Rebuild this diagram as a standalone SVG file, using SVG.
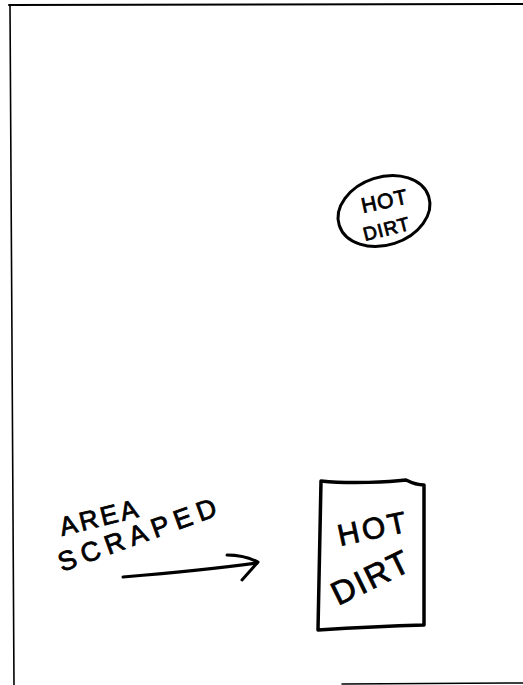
<svg xmlns="http://www.w3.org/2000/svg" width="523" height="685" viewBox="0 0 523 685">
<style>
.ink{fill:none;stroke:#000;stroke-linecap:round;stroke-linejoin:round}
.hand{font-family:"Liberation Sans","DejaVu Sans",sans-serif;fill:#000;stroke:#000;stroke-width:0.8;font-weight:normal}
</style>
<rect width="523" height="685" fill="#fff"/>
<g id="page-border">
<path class="ink" d="M9,5 L523,4" stroke-width="2"/>
<path class="ink" d="M10,5 L14,685" stroke-width="1.6"/>
<path class="ink" d="M342,684 L523,683" stroke-width="1.5"/>
</g>
<g id="hot-dirt-oval">
<ellipse class="ink" stroke-width="3" cx="384" cy="211" rx="47" ry="34" transform="rotate(-18 384 211)"/>
<text class="hand" font-size="21" transform="translate(363,213) rotate(-12)" letter-spacing="1">HOT</text>
<text class="hand" font-size="19" transform="translate(365,241) rotate(-14)" letter-spacing="1">DIRT</text>
</g>
<g id="hot-dirt-area">
<path class="ink" stroke-width="3.5" d="M321,481 C350,484 390,482 406,480 C414,484 420,485 424,485 L424,625 C390,626 350,628 318,630 Z"/>
<text class="hand" font-size="30" transform="translate(340,546) rotate(-12)" letter-spacing="3">HOT</text>
<text class="hand" font-size="33" transform="translate(338,606) rotate(-26)" letter-spacing="2">DIRT</text>
</g>
<g id="label">
<text class="hand" font-size="26" transform="translate(62,536) rotate(-14)" letter-spacing="3">AREA</text>
<text class="hand" font-size="27" transform="translate(62,572) rotate(-20)" letter-spacing="6">SCRAPED</text>
</g>
<g id="connectors">
<path class="ink" stroke-width="3" d="M123,577 C170,573 220,568 257,563"/>
<path class="ink" stroke-width="3" d="M227,555 C240,555 252,559 258,562 L242,580"/>
</g>
</svg>
